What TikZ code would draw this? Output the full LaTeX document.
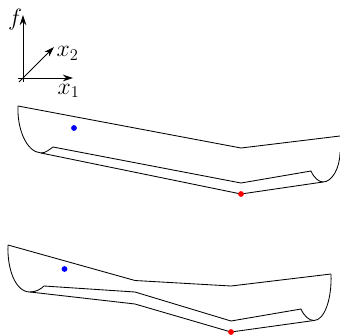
\documentclass[tikz,border=0pt]{standalone}
\usepackage{amsmath}
\usetikzlibrary{positioning,arrows.meta,calc}

\begin{document}
\begin{tikzpicture}[
    x=1pt, y=-1pt,
    arr/.style={-{Stealth[length=10pt, width=6.5pt]}, line width=0.9pt},
    lbl/.style={font=\huge, inner sep=0pt, scale=1.14, transform shape},
    surf/.style={line width=0.85pt, line join=round},
    dot/.style={circle, fill=#1, inner sep=0pt, minimum size=5.8pt}
]
\useasboundingbox (0,0) rectangle (340,335);

\coordinate (fstart) at (23,82);
\coordinate (ftip) at (23,15);
\coordinate (xstart) at (18,78);
\coordinate (xtip) at (73,78);
\coordinate (ystart) at (19,82);
\coordinate (ytip) at (54,47);
\node[lbl] (flabel) at (15,19.5) {$f$};
\node[lbl] (xonelabel) at (68.5,91) {$x_1$};
\node[lbl] (xtwolabel) at (67.5,53.5) {$x_2$};
\draw[arr] (fstart) -- (ftip);
\draw[arr] (xstart) -- (xtip);
\draw[arr] (ystart) -- (ytip);

% upper surface
\draw[surf] (18,106) -- (241,148) -- (340,136);
\draw[surf] (18,106) .. controls (17,128) and (26,152) .. (41,153)
    .. controls (46,153) and (50,149) .. (53,147) -- (241,183) -- (311,171)
    .. controls (314,178) and (319,182) .. (323,182)
    .. controls (332,182) and (340,168) .. (340,152);
\draw[surf] (41,153) -- (241,194) -- (323,182);
\node[dot=blue] (minone) at (74,128) {};
\node[dot=red] (optone) at (241,194) {};

% lower surface
\draw[surf] (8,245) -- (135,280.5) -- (231,286) -- (331,274);
\draw[surf] (8,245) .. controls (7,268) and (15,292) .. (30,292)
    .. controls (36,292) and (41,289) .. (44,286) -- (135,292) -- (231,321) -- (301,309)
    .. controls (304,316) and (309,320.5) .. (314,320.5)
    .. controls (324,320.5) and (332,300) .. (331,274);
\draw[surf] (30,292) -- (135,304) -- (231,332) -- (314,320.5);
\node[dot=blue] (mintwo) at (64.5,269) {};
\node[dot=red] (opttwo) at (231,332) {};
\end{tikzpicture}
\end{document}
